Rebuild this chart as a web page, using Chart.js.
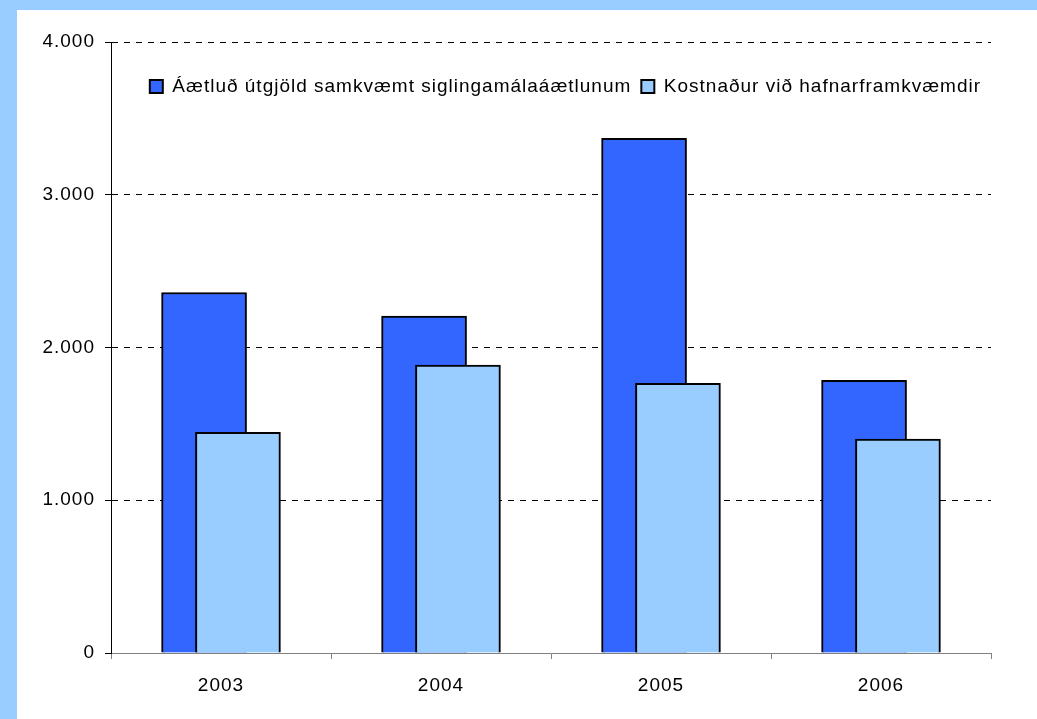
<!DOCTYPE html>
<html>
<head>
<meta charset="utf-8">
<script src="https://cdn.jsdelivr.net/npm/chart.js@4/dist/chart.umd.min.js"></script>
<style>
  html, body { margin: 0; padding: 0; background: #99ccff; }
  #wrap { position: absolute; left: 17px; top: 10px; width: 1020px; height: 709px; background: #fff; }
</style>
</head>
<body>
<div id="wrap"><canvas id="canvas"></canvas></div>
<script>
// data
var years = ['2003', '2004', '2005', '2006'];
var planned = [2360, 2205, 3370, 1785];
var actual = [1445, 1885, 1765, 1400];
var seriesNames = ['Áætluð útgjöld samkvæmt siglingamálaáætlunum', 'Kostnaður við hafnarframkvæmdir'];
var yTicks = [0, 1000, 2000, 3000, 4000];

var shift = 0.077; // how far each bar sits off the category centre

function points(vals) {
    return vals.map(function (v, i) { return { x: i, y: v }; });
}

function fmt(v) {
    return String(v).replace(/\B(?=(\d{3})+(?!\d))/g, '.');
}

// legend sits inside the plot: take no height in the layout, then get it back for drawing
var legendInside = {
    id: 'legendInside',
    afterInit: function (chart) {
        var leg = chart.legend;
        var fit = leg.fit;
        leg.fit = function () {
            fit.call(this);
            this._realHeight = this.height;
            this.height = 0;
        };
    },
    afterLayout: function (chart) {
        var leg = chart.legend;
        leg.height = leg._realHeight;
        leg.bottom = leg.top + leg.height;
    }
};

// the original text is a bit spread out
var spacing = {
    id: 'spacing',
    beforeUpdate: function (chart) { chart.ctx.letterSpacing = '1px'; },
    beforeDraw: function (chart) { chart.ctx.letterSpacing = '1px'; }
};

Chart.defaults.font.family = '"Liberation Sans", Arial, sans-serif';
Chart.defaults.font.size = 19;
Chart.defaults.color = '#000';

const ctx = document.getElementById('canvas').getContext('2d');
const myChart = new Chart(ctx, {
    type: 'bar',
    data: {
        labels: years,
        datasets: [{
            label: seriesNames[0],
            data: points(planned),
            xAxisID: 'xd',
            backgroundColor: '#3366ff',
            borderColor: '#000',
            borderWidth: 2,
            barThickness: 85,
            grouped: false,
            order: 2
        }, {
            label: seriesNames[1],
            data: points(actual),
            xAxisID: 'xl',
            backgroundColor: '#99ccff',
            borderColor: '#000',
            borderWidth: 2,
            barThickness: 85,
            grouped: false,
            order: 1
        }]
    },
    plugins: [spacing, legendInside],
    options: {
        responsive: true,
        maintainAspectRatio: false,
        animation: false,
        layout: { padding: { left: 0, top: 32, right: 46, bottom: 0 } },
        plugins: {
            tooltip: { enabled: false },
            legend: {
                position: 'top',
                fullSize: false,
                align: 'end',
                title: { display: true, text: '', font: { size: 10 }, padding: { top: 13, bottom: 0 } },
                labels: {
                    boxWidth: 13,
                    boxHeight: 13,
                    padding: 10,
                    font: { size: 19 },
                    sort: function (a, b) { return a.datasetIndex - b.datasetIndex; }
                }
            }
        },
        scales: {
            x: {
                type: 'category',
                offset: true,
                grid: { offset: true, drawOnChartArea: false, tickLength: 6, tickColor: '#808080' },
                border: { color: '#808080', width: 1 },
                ticks: { padding: 15, font: { size: 19 } },
                afterFit: function (s) { s.height = 66; }
            },
            xd: {
                type: 'linear',
                display: false,
                offset: false,
                min: -0.5 + shift,
                max: years.length - 0.5 + shift
            },
            xl: {
                type: 'linear',
                display: false,
                offset: false,
                min: -0.5 - shift,
                max: years.length - 0.5 - shift
            },
            y: {
                min: yTicks[0],
                max: yTicks[yTicks.length - 1],
                afterBuildTicks: function (s) {
                    s.ticks = yTicks.map(function (v) { return { value: v }; });
                },
                grid: {
                    color: function (c) { return c.tick && c.tick.value === 0 ? 'rgba(0,0,0,0)' : '#000'; },
                    tickColor: '#000',
                    tickLength: 6
                },
                border: { color: '#000', width: 1, dash: [6, 6] },
                ticks: {
                    padding: 10,
                    font: { size: 19 },
                    callback: function (v) { return fmt(v); }
                },
                afterFit: function (s) { s.width = 94; }
            }
        }
    }
});
</script>
</body>
</html>
